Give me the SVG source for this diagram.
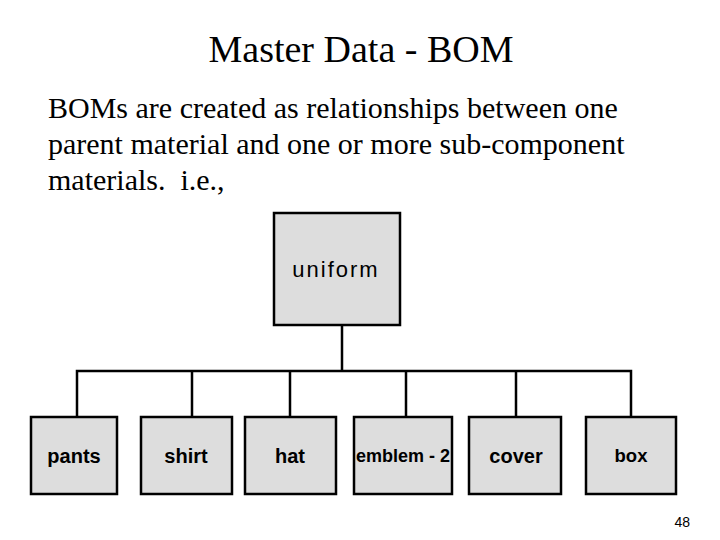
<svg xmlns="http://www.w3.org/2000/svg" width="720" height="540" viewBox="0 0 720 540">
<style>
.box{fill:#dddddd;stroke:#000;stroke-width:2.5}
.lbl{font-family:"Liberation Sans",Arial,sans-serif;font-size:20px;font-weight:bold;fill:#000;text-anchor:middle}
.conn{stroke:#000;stroke-width:2.5;fill:none}
.serif{font-family:"Liberation Serif","Times New Roman",serif;fill:#000}
</style>
<rect width="720" height="540" fill="#fff"/>
<text class="serif" x="361" y="62" font-size="38" text-anchor="middle">Master Data - BOM</text>
<text class="serif" font-size="30" xml:space="preserve">
<tspan x="48" y="118">BOMs are created as relationships between one</tspan>
<tspan x="48" y="154">parent material and one or more sub-component</tspan>
<tspan x="48" y="190">materials.  i.e.,</tspan>
</text>
<g id="connectors">
<path class="conn" d="M342 325V371M77 417V371H631V417M192 371V417M290 371V417M406 371V417M516 371V417"/>
</g>
<g id="uniform"><rect class="box" x="274" y="213" width="126" height="112"/><text x="336" y="277" font-family="Liberation Sans,Arial,sans-serif" font-size="22" letter-spacing="2" text-anchor="middle">uniform</text></g>
<g id="pants"><rect class="box" x="31" y="417" width="86" height="77"/><text class="lbl" x="74" y="463">pants</text></g>
<g id="shirt"><rect class="box" x="141" y="417" width="91" height="77"/><text class="lbl" x="186" y="463">shirt</text></g>
<g id="hat"><rect class="box" x="245" y="417" width="91" height="77"/><text class="lbl" x="290" y="463">hat</text></g>
<g id="emblem"><rect class="box" x="354" y="417" width="98" height="77"/><text class="lbl" x="403" y="462" style="font-size:18px">emblem - 2</text></g>
<g id="cover"><rect class="box" x="469" y="417" width="92" height="77"/><text class="lbl" x="516" y="463">cover</text></g>
<g id="box"><rect class="box" x="586" y="417" width="90" height="77"/><text class="lbl" x="631" y="462" style="font-size:18.5px">box</text></g>
<text x="690" y="527" font-family="Liberation Sans,Arial,sans-serif" font-size="14" text-anchor="end">48</text>
</svg>
